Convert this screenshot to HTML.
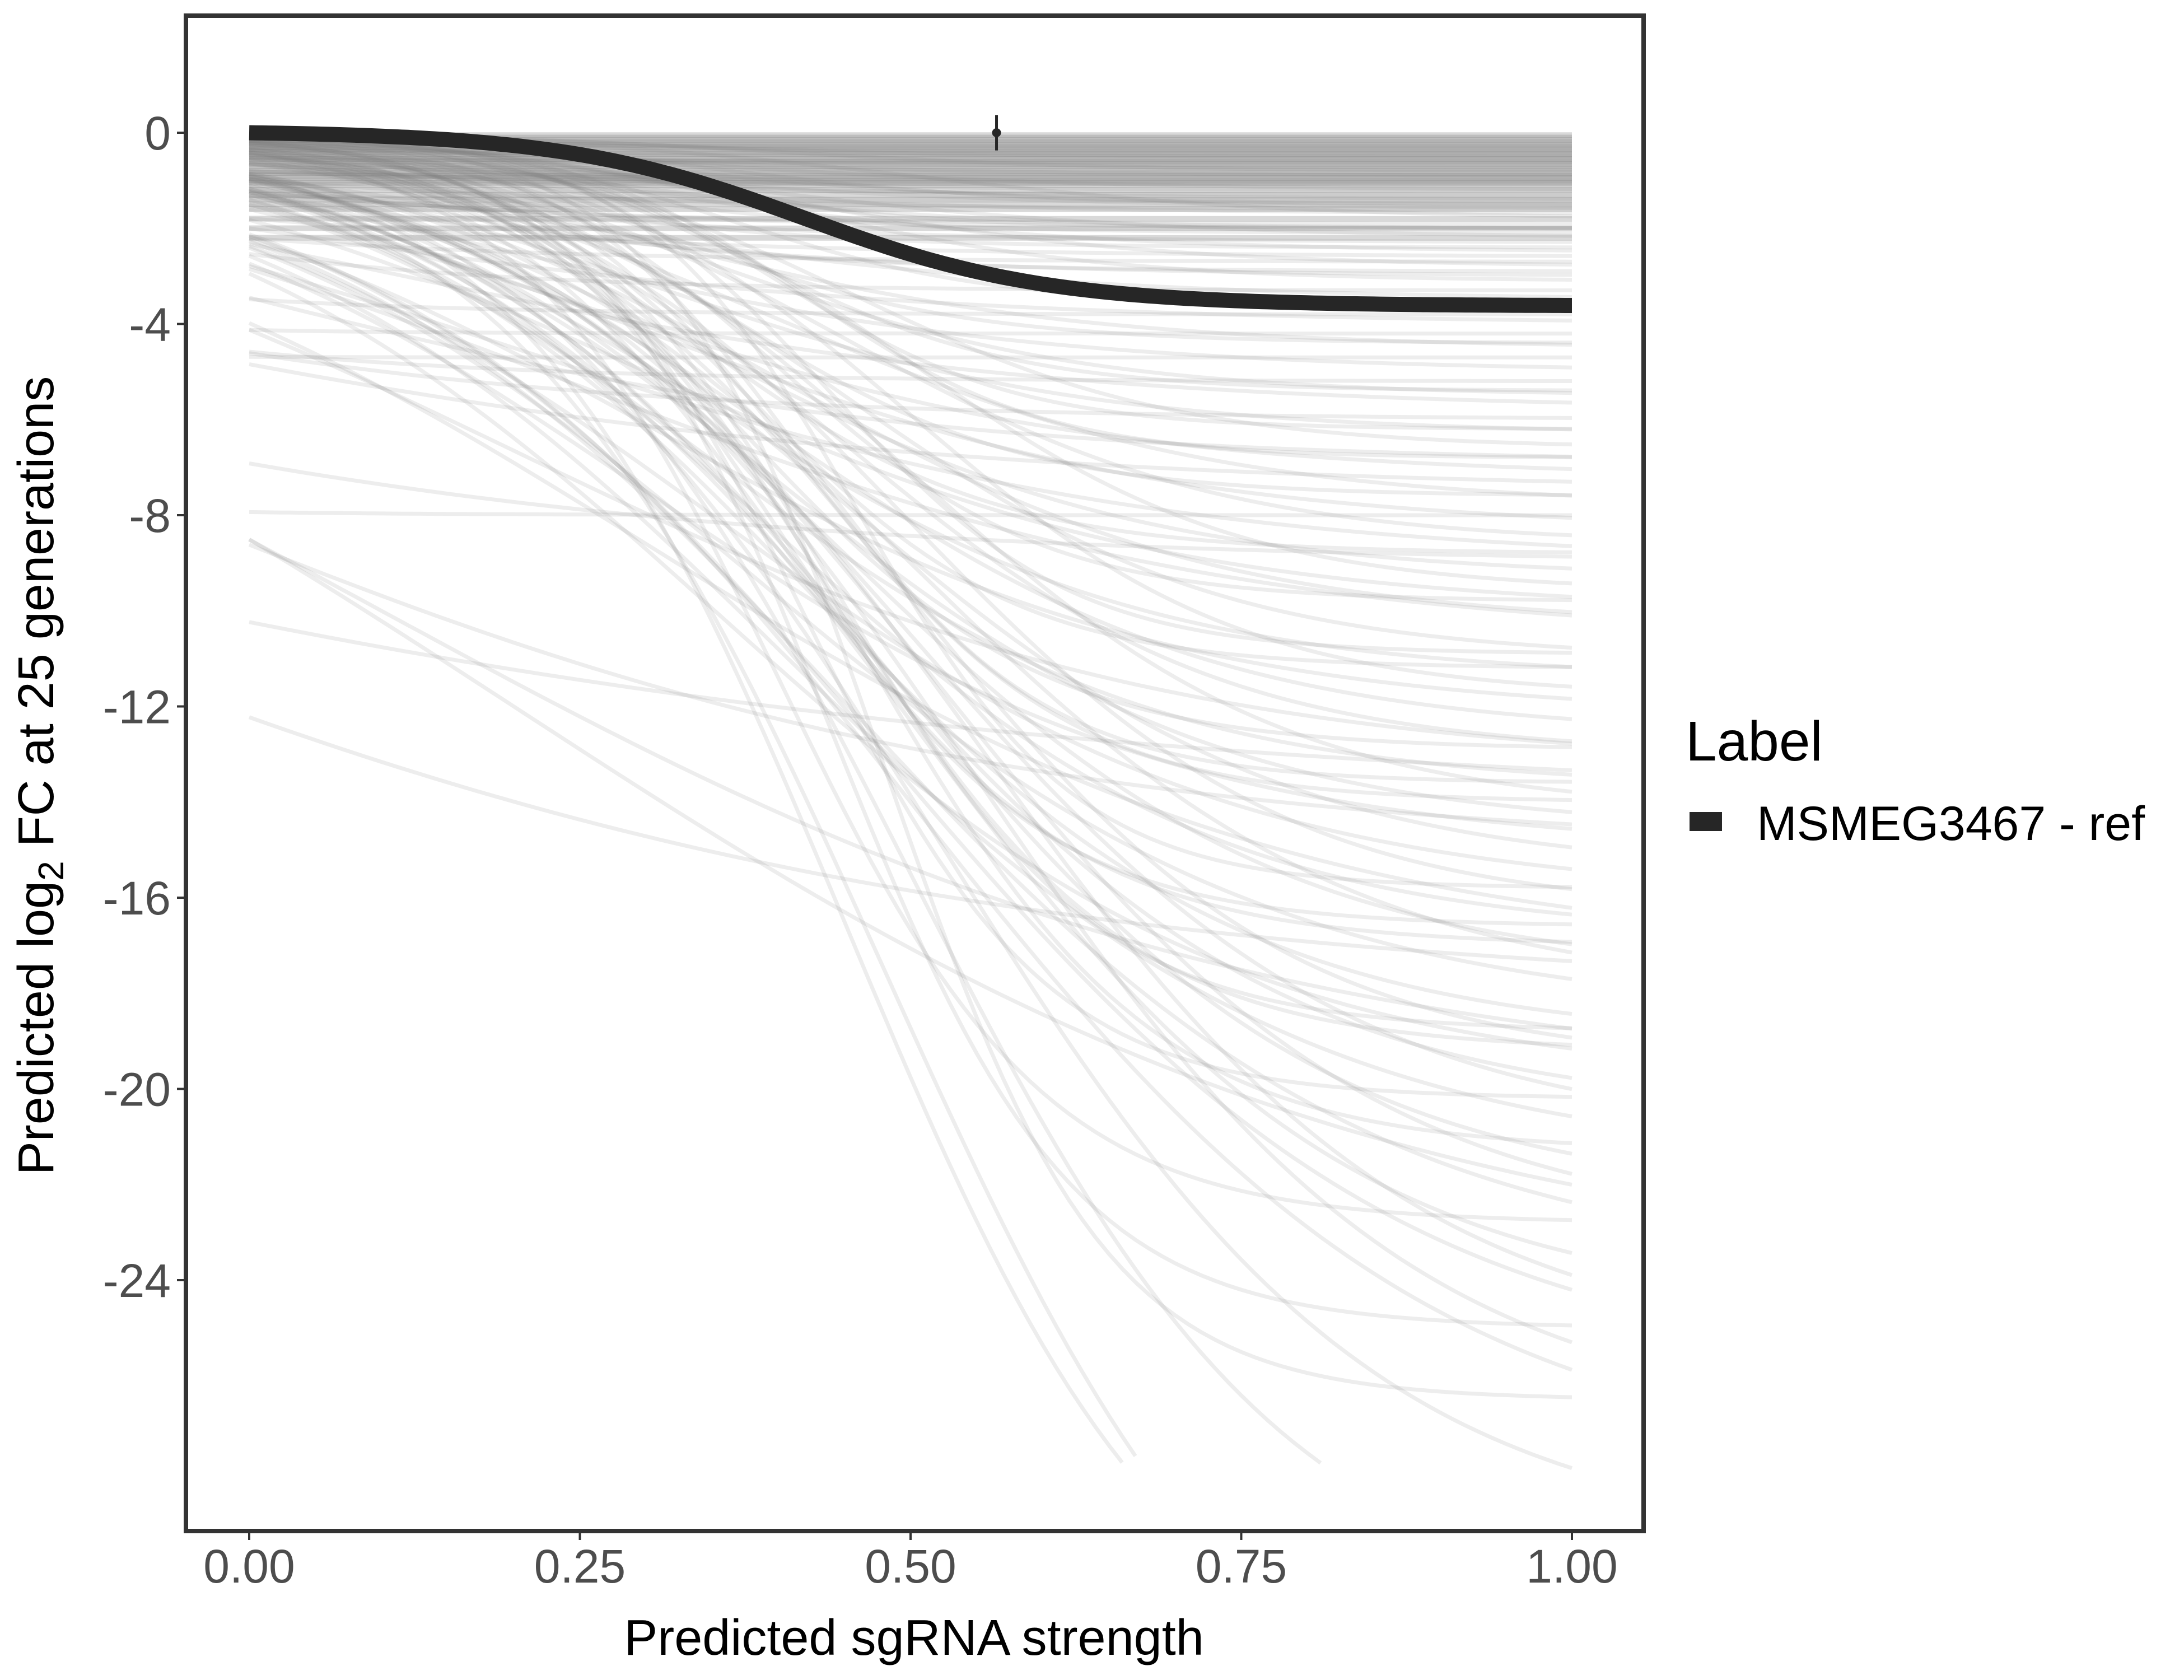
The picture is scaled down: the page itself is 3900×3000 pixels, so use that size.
<!DOCTYPE html>
<html><head><meta charset="utf-8"><style>
html,body{margin:0;padding:0;background:#fff;}
svg{display:block;font-family:"Liberation Sans",Arial,sans-serif;}
</style></head><body>
<svg id="chart" width="3900" height="3000" viewBox="0 0 3900 3000" xmlns="http://www.w3.org/2000/svg">
<rect width="3900" height="3000" fill="#fff"/>
<g id="grey"></g>
<g id="main"></g>
<rect x="332" y="28" width="2603" height="2706" fill="none" stroke="#333" stroke-width="8"/>
<g id="xt"></g>
<g id="yt"></g>
<text x="1632" y="2955" font-size="90" text-anchor="middle" fill="#000">Predicted sgRNA strength</text>
<text transform="translate(95,1385) rotate(-90)" font-size="90" text-anchor="middle" fill="#000">Predicted  log<tspan font-size="64" dy="18">2</tspan><tspan dy="-18"> FC at 25 generations</tspan></text>
<g>
<text x="3010" y="1358" font-size="100" fill="#000">Label</text>
<rect x="3017" y="1450" width="58" height="34" fill="#262626"/>
<text x="3137" y="1500" font-size="86" fill="#000">MSMEG3467 - ref</text>
</g>
</svg>
<script>
const xTicks=[0,0.25,0.5,0.75,1];
const xTickLabels=["0.00","0.25","0.50","0.75","1.00"];
const yTicks=[0,-4,-8,-12,-16,-20,-24];
const yTickLabels=["0","-4","-8","-12","-16","-20","-24"];
// grey curves: asymptote, midpoint, steepness
const curveA=[-0.3,-0.5,-0.7,-0.9,-1.1,-1.3,-1.5,-1.7,-1.9,-2.1,-2.3,-2.5,-2.7,-2.9,-3.1,-3.3,-3.5,-3.8,-4.0,-4.2,-4.5,-4.7,-5.0,-5.2,-5.5,-5.8,-6.0,-6.3,-6.6,-6.9,-7.2,-7.5,-7.8,-8.0,-8.3,-8.6,-9.0,-9.3,-9.6,-10,-10.3,-10.6,-11,-11.4,-11.8,-12.2,-12.6,-13,-13.3,-13.7,-14.2,-14.6,-15,-15.5,-16,-16.3,-16.8,-17.2,-17.6,-18,-18.5,-19,-19.5,-19.9,-20.5,-21,-21.6,-22.3,-23,-23.8,-24.6,-25.5,-26,-27,-28,-29.5,-31,-33,-35,-20,-18,-15,-9,-24,-14,-0.2,-0.4,-0.6,-0.8,-1.0,-1.2,-1.4,-1.6,-1.8,-2.0,-2.2,-2.4,-2.6,-2.8,-3.0,-0.3,-0.6,-1.0,-1.4,-0.5,-0.9,-1.2,-1.6,-2.0,-0.4,
 -5.4,-6.8,-7.6,-9.8,-10.9,-12.9,-14.0,-15.8,-17.0,-18.8,-20.2,-21.3,-22.8,-25.0,-26.5,-4.4,-3.6,-6.2,-8.8,-11.2,-13.6,-16.6,-19.2,-2.0,-1.5];
const curveM=[0.0,-0.1,0.1,0.2,-0.2,0.0,0.3,0.1,-0.1,0.2,0.0,0.3,-0.3,0.1,0.4,-0.2,0.2,-0.4,0.0,-0.5,0.3,-0.6,0.2,-0.4,0.35,0.1,-0.3,0.3,0.45,0.0,0.25,-0.2,0.4,-0.8,0.3,0.45,0.2,0.35,0.5,0.3,0.4,0.25,0.45,0.35,0.5,0.3,0.4,0.45,0.2,0.35,0.5,0.4,0.3,0.45,0.35,0.5,0.4,0.3,0.45,0.5,0.38,0.42,0.5,0.35,0.45,0.5,0.4,0.48,0.52,0.45,0.5,0.55,0.48,0.55,0.5,0.52,0.5,0.45,0.48,0.1,-0.3,-0.1,-0.4,0.2,-0.5,-0.5,0.2,-0.3,0.4,0.0,0.3,-0.4,0.2,0.5,-0.1,0.35,0.15,-0.2,0.4,0.05,-0.6,-0.4,-0.2,0.1,0.3,-0.5,0.15,-0.1,0.25,-0.3,
 0.38,0.42,0.36,0.4,0.44,0.38,0.42,0.46,0.4,0.44,0.42,0.46,0.4,0.44,0.48,0.32,0.36,0.4,0.34,0.38,0.42,0.4,0.44,0.3,0.35];
const curveK=[8,6,7,6,5,6,7,5,6,8,5,6,5,7,8,6,5,6,4,8,6,10,5,5,7,4,4,6,8,4,5,3,6,6,5,7,4,6,8,5,6,4,7,6,8,5,6,7,4,6,7,6,5,6,5,7,6,4,6,6,5,6,7,5,6,6,5,6,6,5,6,6,5,6,5,6,7,8,7,3,2.5,3,3,3,2,5,9,6,8,9,6,7,5,7,5,6,8,4,7,5,8,6,7,5,9,6,8,5,7,9,
 10,11,9,10,11,9,10,12,9,10,11,9,10,11,12,9,10,11,9,10,11,10,9,10,9];
// flat near-zero band levels
const bandLevels=[-0.05,-0.1,-0.15,-0.2,-0.25,-0.3,-0.35,-0.4,-0.45,-0.5,-0.55,-0.6,-0.65,-0.7,-0.75,-0.8,-0.85,-0.9,-0.95,-1.0,-1.05,-1.1,-1.2,-1.3,-1.4,-1.5,-1.6,-1.8,-2.0,-2.2];
// highlighted series
const mainA=-3.62, mainM=0.42, mainK=11;
const pointX=0.565, pointY=0, pointErr=0.37;

const NS="http://www.w3.org/2000/svg";
const X0=445,X1=2807,Y0=237,PER=341.5/4;
const sx=v=>X0+(X1-X0)*v;
const sy=v=>Y0-v*PER;
function f(A,m,k,x){return A/(1+Math.exp(-k*(x-m)));}
function pathFor(A,m,k){
  let d="";let started=false;
  for(let i=0;i<=100;i++){
    const x=i/100;const y=f(A,m,k,x);
    if(y<-28)break;
    d+=(started?"L":"M")+sx(x).toFixed(1)+","+sy(y).toFixed(1);started=true;
  }
  return d;
}
const grey=document.getElementById('grey');
for(let i=0;i<curveA.length;i++){
  const p=document.createElementNS(NS,'path');
  p.setAttribute('d',pathFor(curveA[i],curveM[i],curveK[i]));
  p.setAttribute('fill','none');p.setAttribute('stroke','#808080');
  p.setAttribute('stroke-opacity','0.14');p.setAttribute('stroke-width','7');
  
  
  grey.appendChild(p);
}
for(let i=0;i<bandLevels.length;i++){
  const p=document.createElementNS(NS,'path');
  p.setAttribute('d',pathFor(bandLevels[i],-0.8,8));
  p.setAttribute('fill','none');p.setAttribute('stroke','#808080');
  p.setAttribute('stroke-opacity','0.3');p.setAttribute('stroke-width','10');
  
  
  grey.appendChild(p);
}
const mainG=document.getElementById('main');
const mp=document.createElementNS(NS,'path');
let md="";for(let i=0;i<=200;i++){const x=i/200;md+=(i?"L":"M")+sx(x).toFixed(1)+","+sy(f(mainA,mainM,mainK,x)-f(mainA,mainM,mainK,0)*(1-x)).toFixed(1);}
mp.setAttribute('d',md);mp.setAttribute('fill','none');mp.setAttribute('stroke','#262626');mp.setAttribute('stroke-width','27');


mainG.appendChild(mp);
const eb=document.createElementNS(NS,'line');
eb.setAttribute('x1',sx(pointX));eb.setAttribute('x2',sx(pointX));
eb.setAttribute('y1',sy(pointY+pointErr));eb.setAttribute('y2',sy(pointY-pointErr));
eb.setAttribute('stroke','#262626');eb.setAttribute('stroke-width','5');


mainG.appendChild(eb);
const pt=document.createElementNS(NS,'circle');
pt.setAttribute('cx',sx(pointX));pt.setAttribute('cy',sy(pointY));pt.setAttribute('r','8');pt.setAttribute('fill','#262626');


mainG.appendChild(pt);

const xt=document.getElementById('xt');
xTicks.forEach((v,i)=>{
  const l=document.createElementNS(NS,'line');
  l.setAttribute('x1',sx(v));l.setAttribute('x2',sx(v));l.setAttribute('y1','2738');l.setAttribute('y2','2750');
  l.setAttribute('stroke','#333');l.setAttribute('stroke-width','4');
  
  
  xt.appendChild(l);
  const t=document.createElementNS(NS,'text');
  t.setAttribute('x',sx(v));t.setAttribute('y','2826');t.setAttribute('font-size','84');
  t.setAttribute('text-anchor','middle');t.setAttribute('fill','#4d4d4d');
  t.textContent=xTickLabels[i];
  
  
  xt.appendChild(t);
});
const yt=document.getElementById('yt');
yTicks.forEach((v,i)=>{
  const l=document.createElementNS(NS,'line');
  l.setAttribute('x1','316');l.setAttribute('x2','328');l.setAttribute('y1',sy(v));l.setAttribute('y2',sy(v));
  l.setAttribute('stroke','#333');l.setAttribute('stroke-width','4');
  
  
  yt.appendChild(l);
  const t=document.createElementNS(NS,'text');
  t.setAttribute('x','305');t.setAttribute('y',sy(v)+30);t.setAttribute('font-size','84');
  t.setAttribute('text-anchor','end');t.setAttribute('fill','#4d4d4d');
  t.textContent=yTickLabels[i];
  
  
  yt.appendChild(t);
});
</script>
</body></html>
